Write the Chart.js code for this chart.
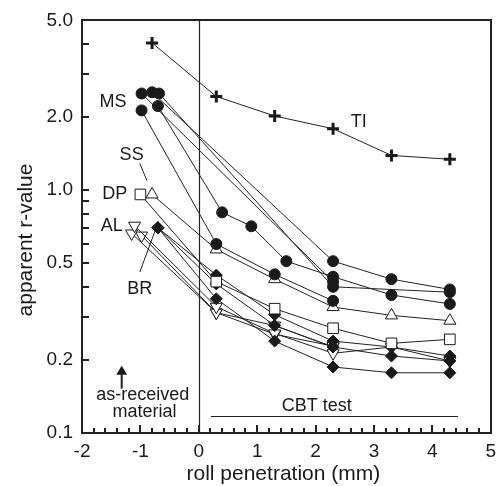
<!DOCTYPE html>
<html lang="en">
<head>
<meta charset="UTF-8">
<title>Apparent r-value vs roll penetration</title>
<script src="https://cdn.jsdelivr.net/npm/chart.js"></script>
<style>
  body { margin: 0; background: #fff; }
</style>
</head>
<body>
<canvas id="rChart" width="503" height="486"></canvas>
<script>
// roll penetration (mm) -- negative x = as-received material
const tiX = [-0.8, 0.3, 1.3, 2.3, 3.3, 4.3];
const tiY = [4.04, 2.43, 2.02, 1.79, 1.39, 1.34];

const ms1X = [-0.98, 0.3, 1.3, 2.3];
const ms1Y = [2.13, 0.60, 0.45, 0.35];
const ms2X = [-0.7, 0.4, 0.9, 1.5, 2.3, 3.3, 4.3];
const ms2Y = [2.22, 0.81, 0.71, 0.51, 0.44, 0.37, 0.34];
const ms3X = [-0.8, 2.3, 3.3, 4.3];
const ms3Y = [2.53, 0.51, 0.43, 0.39];
const ms4X = [-0.68, 2.3, 4.3];
const ms4Y = [2.50, 0.40, 0.38];
const ms5X = [-0.98, 2.3];
const ms5Y = [2.50, 0.42];

const ssX = [-0.8, 0.3, 1.3, 2.3, 3.3, 4.3];
const ssY = [0.96, 0.57, 0.43, 0.33, 0.305, 0.29];

const dpX = [-1.0, 0.3, 1.3, 2.3, 3.3, 4.3];
const dpY = [0.96, 0.42, 0.325, 0.27, 0.234, 0.243];

const al1X = [-1.1, 0.3, 1.3, 2.3, 3.3, 4.3];
const al1Y = [0.714, 0.331, 0.257, 0.213, 0.226, 0.198];
const al2X = [-1.15, 0.3, 1.3, 2.3];
const al2Y = [0.663, 0.313, 0.255, 0.228];
const al3X = [-0.98, 0.3, 1.3, 2.3];
const al3Y = [0.650, 0.313, 0.277, 0.226];

const br1X = [-0.7, 0.3, 1.3, 2.3, 3.3, 4.3];
const br1Y = [0.70, 0.447, 0.307, 0.239, 0.226, 0.2075];
const br2X = [-0.7, 0.3, 1.3, 2.3, 3.3, 4.3];
const br2Y = [0.70, 0.411, 0.277, 0.226, 0.2075, 0.198];
const br3X = [-0.7, 0.3, 1.3, 2.3, 3.3, 4.3];
const br3Y = [0.70, 0.357, 0.239, 0.187, 0.177, 0.177];

const yMajor = [0.1, 0.2, 0.5, 1, 2, 5];
const yMinor = [0.3, 0.4, 0.6, 0.7, 0.8, 0.9, 3, 4];

// material labels, placed in data units
const tags = [
  { text: 'MS', x: -1.47, y: 2.30 },
  { text: 'SS', x: -1.15, y: 1.40 },
  { text: 'DP', x: -1.44, y: 0.963 },
  { text: 'AL', x: -1.49, y: 0.714 },
  { text: 'BR', x: -1.01, y: 0.392 },
  { text: 'TI', x: 2.74, y: 1.91 }
];
const leaders = [
  [-1.01, 1.288, -0.89, 1.098],
  [-1.01, 0.46, -0.74, 0.688]
];

const FONT = "'Liberation Sans', Arial, sans-serif";
const INK = '#1a1a1a';

function pts(xs, ys) { return xs.map((x, i) => ({ x: x, y: ys[i] })); }

const filledCircle = { pointStyle: 'circle', pointRadius: 5.5, pointBackgroundColor: INK, pointBorderColor: INK, pointBorderWidth: 1 };
const filledDiamond = { pointStyle: 'rectRot', pointRadius: 6, pointBackgroundColor: INK, pointBorderColor: INK, pointBorderWidth: 1 };
const openUp = { pointStyle: 'triangle', pointRadius: 7, pointBackgroundColor: '#fff', pointBorderColor: INK, pointBorderWidth: 1 };
const openDown = { pointStyle: 'triangle', pointRotation: 180, pointRadius: 7, pointBackgroundColor: '#fff', pointBorderColor: INK, pointBorderWidth: 1 };
const openSquare = { pointStyle: 'rect', pointRadius: 7.5, pointBackgroundColor: '#fff', pointBorderColor: INK, pointBorderWidth: 1 };
const thickCross = { pointStyle: 'cross', pointRadius: 6, pointBorderColor: INK, pointBorderWidth: 3 };

function series(xs, ys, marker) {
  return Object.assign({
    data: pts(xs, ys),
    showLine: true,
    borderColor: '#222',
    borderWidth: 1,
    fill: false
  }, marker);
}

const datasets = [
  series(tiX, tiY, thickCross),
  series(ms1X, ms1Y, filledCircle),
  series(ms2X, ms2Y, filledCircle),
  series(ms3X, ms3Y, filledCircle),
  series(ms4X, ms4Y, filledCircle),
  series(ms5X, ms5Y, filledCircle),
  series(ssX, ssY, openUp),
  series(dpX, dpY, openSquare),
  series(br1X, br1Y, filledDiamond),
  series(br2X, br2Y, filledDiamond),
  series(br3X, br3Y, filledDiamond),
  series(al1X, al1Y, openDown),
  series(al2X, al2Y, openDown),
  series(al3X, al3Y, openDown)
];

// frame, zero line and inward ticks, drawn under the data
const frame = {
  id: 'frame',
  beforeDatasetsDraw(chart) {
    const { ctx, scales: { x, y } } = chart;
    const L = Math.round(x.getPixelForValue(-2));
    const R = Math.round(x.getPixelForValue(5));
    const T = Math.round(y.getPixelForValue(5));
    const B = Math.round(y.getPixelForValue(0.1));
    const x0 = Math.round(x.getPixelForValue(0)) + 0.5;
    ctx.save();
    ctx.strokeStyle = '#222';
    ctx.lineWidth = 2;
    ctx.strokeRect(L, T, R - L, B - T);
    ctx.lineWidth = 1.2;
    ctx.beginPath();
    ctx.moveTo(x0, T);
    ctx.lineTo(x0, B);
    ctx.stroke();
    ctx.lineWidth = 2;
    ctx.beginPath();
    for (let i = -10; i <= 25; i++) {
      const px = Math.round(x.getPixelForValue(i / 5));
      ctx.moveTo(px, B);
      ctx.lineTo(px, B - (i % 5 === 0 ? 8 : 5));
    }
    yMajor.concat(yMinor).forEach(v => {
      const py = Math.round(y.getPixelForValue(v));
      ctx.moveTo(L, py);
      ctx.lineTo(L + 7, py);
    });
    ctx.stroke();
    ctx.restore();
  }
};

// labels, arrow, CBT span and axis titles
const notes = {
  id: 'notes',
  afterDraw(chart) {
    const { ctx, scales: { x, y } } = chart;
    ctx.save();
    ctx.strokeStyle = '#222';
    ctx.lineWidth = 1;
    ctx.fillStyle = INK;
    ctx.font = '18px ' + FONT;
    ctx.textAlign = 'center';
    ctx.textBaseline = 'middle';
    tags.forEach(t => ctx.fillText(t.text, x.getPixelForValue(t.x), y.getPixelForValue(t.y)));
    ctx.beginPath();
    leaders.forEach(l => {
      ctx.moveTo(x.getPixelForValue(l[0]), y.getPixelForValue(l[1]));
      ctx.lineTo(x.getPixelForValue(l[2]), y.getPixelForValue(l[3]));
    });
    ctx.stroke();

    const ax = x.getPixelForValue(-1.32);
    const aTop = y.getPixelForValue(0.189);
    const aBot = y.getPixelForValue(0.1524);
    ctx.lineWidth = 2;
    ctx.beginPath();
    ctx.moveTo(ax, aBot);
    ctx.lineTo(ax, aTop + 2);
    ctx.stroke();
    ctx.beginPath();
    ctx.moveTo(ax, aTop);
    ctx.lineTo(ax - 5.5, aTop + 9);
    ctx.lineTo(ax + 5.5, aTop + 9);
    ctx.closePath();
    ctx.fill();

    ctx.fillText('as-received', x.getPixelForValue(-0.96), y.getPixelForValue(0.1427));
    ctx.fillText('material', x.getPixelForValue(-0.93), y.getPixelForValue(0.1217));

    ctx.lineWidth = 1;
    const cy = Math.round(y.getPixelForValue(0.1173)) + 0.5;
    ctx.beginPath();
    ctx.moveTo(x.getPixelForValue(0.21), cy);
    ctx.lineTo(x.getPixelForValue(4.44), cy);
    ctx.stroke();
    ctx.fillText('CBT test', x.getPixelForValue(2.02), y.getPixelForValue(0.1288));

    ctx.font = '21px ' + FONT;
    ctx.fillText('roll penetration (mm)', (x.getPixelForValue(-2) + x.getPixelForValue(5)) / 2 - 3, 474);
    ctx.translate(26, 240);
    ctx.rotate(-Math.PI / 2);
    ctx.fillText('apparent r-value', 0, 0);
    ctx.restore();
  }
};

new Chart(document.getElementById('rChart'), {
  type: 'scatter',
  data: { datasets: datasets },
  options: {
    responsive: false,
    animation: false,
    layout: { padding: { top: 15, right: 10, left: 0, bottom: 0 } },
    plugins: { legend: { display: false }, tooltip: { enabled: false } },
    scales: {
      x: {
        type: 'linear',
        min: -2,
        max: 5,
        grid: { display: false, drawTicks: false },
        border: { display: true, color: '#222', width: 1 },
        ticks: {
          stepSize: 1,
          padding: 7,
          color: INK,
          font: { family: FONT, size: 19 },
          callback: v => String(v)
        },
        afterFit: s => { s.height = 53; }
      },
      y: {
        type: 'logarithmic',
        min: 0.1,
        max: 5,
        grid: { display: false, drawTicks: false },
        border: { display: true, color: '#222', width: 1 },
        afterBuildTicks: s => { s.ticks = yMajor.map(v => ({ value: v })); },
        ticks: {
          padding: 9,
          color: INK,
          font: { family: FONT, size: 19 },
          callback: v => Number(v).toFixed(1)
        },
        afterFit: s => { s.width = 82; }
      }
    }
  },
  plugins: [frame, notes]
});
</script>
</body>
</html>
